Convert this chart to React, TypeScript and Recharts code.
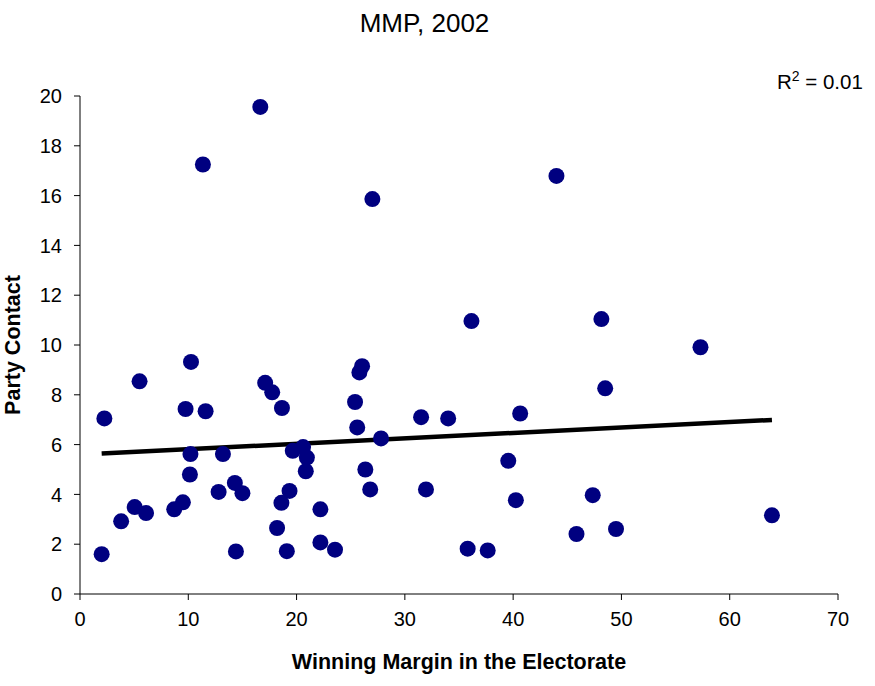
import React from 'react'
import { ComposedChart, Scatter, Line, XAxis, YAxis, Label } from 'recharts'

// winning margin (x) and party contact (y), one entry per electorate
const margin = [
  2.0, 2.25, 3.8, 5.05, 5.5, 6.1, 8.7, 9.5, 9.75, 10.2, 10.15, 10.25, 11.35, 11.6, 12.8,
  13.2, 14.3, 14.4, 15.0, 16.65, 17.1, 17.75, 18.2, 18.6, 18.65, 19.1, 19.35, 19.65, 20.6,
  20.95, 20.85, 22.2, 22.2, 23.55, 25.4, 25.6, 25.8, 26.05, 26.35, 26.8, 27.0, 27.8, 31.5,
  31.95, 34.0, 35.8, 36.15, 37.65, 39.55, 40.25, 40.65, 44.0, 45.85, 47.35, 48.15, 48.5,
  49.5, 57.3, 63.9,
]
const contact = [
  1.6, 7.05, 2.92, 3.49, 8.54, 3.25, 3.4, 3.68, 7.43, 5.62, 4.8, 9.32, 17.25, 7.34, 4.1,
  5.62, 4.46, 1.71, 4.05, 19.56, 8.48, 8.1, 2.65, 3.66, 7.47, 1.72, 4.14, 5.75, 5.9,
  5.48, 4.93, 3.4, 2.07, 1.78, 7.71, 6.69, 8.9, 9.15, 5.0, 4.2, 15.86, 6.25, 7.1,
  4.2, 7.05, 1.82, 10.96, 1.75, 5.35, 3.77, 7.25, 16.79, 2.41, 3.97, 11.04, 8.26,
  2.61, 9.91, 3.16,
]

// linear trend line end points
const trendX = [2.0, 63.9]
const trendY = [5.64, 6.99]

const xTicks = [0, 10, 20, 30, 40, 50, 60, 70]
const yTicks = [0, 2, 4, 6, 8, 10, 12, 14, 16, 18, 20]

const points = margin.map((x, i) => ({ x, y: contact[i] }))
const trend = trendX.map((x, i) => ({ x, y: trendY[i] }))

const font = '"Liberation Sans", Arial, sans-serif'

const Dot = (props: any) => (
  <circle cx={props.cx} cy={props.cy} r={8} fill="#000080" />
)

const App = () => {
  return (
    <div style={{ position: 'absolute', left: 0, top: 0, width: 875, height: 686, fontFamily: font }}>
      <div
        style={{
          position: 'absolute',
          left: 0,
          width: 849,
          top: 10,
          textAlign: 'center',
          fontSize: 26,
          lineHeight: '26px',
        }}
      >
        MMP, 2002
      </div>
      <div
        style={{
          position: 'absolute',
          left: 777,
          top: 72,
          fontSize: 20.5,
          lineHeight: '20px',
          whiteSpace: 'nowrap',
        }}
      >
        R<sup style={{ fontSize: 14, lineHeight: 0 }}>2</sup> = 0.01
      </div>
      <ComposedChart
        width={875}
        height={686}
        margin={{ top: 96, right: 37, left: 0, bottom: 0 }}
        style={{ fontFamily: font }}
      >
        <XAxis
          dataKey="x"
          type="number"
          domain={[0, 70]}
          ticks={xTicks}
          height={92}
          tickSize={6}
          tickMargin={12}
          stroke="#000"
          tick={{ fill: '#000', fontSize: 20 }}
        >
          <Label
            value="Winning Margin in the Electorate"
            position="insideBottom"
            offset={17}
            style={{ fontSize: 21.5, fontWeight: 'bold', fill: '#000' }}
          />
        </XAxis>
        <YAxis
          dataKey="y"
          type="number"
          domain={[0, 20]}
          ticks={yTicks}
          width={80}
          tickSize={6}
          tickMargin={12}
          stroke="#000"
          tick={{ fill: '#000', fontSize: 20 }}
        >
          <Label
            value="Party Contact"
            angle={-90}
            position="insideLeft"
            offset={12}
            style={{ fontSize: 21.5, fontWeight: 'bold', fill: '#000', textAnchor: 'middle' }}
          />
        </YAxis>
        <Scatter data={points} shape={Dot} isAnimationActive={false} />
        <Line
          data={trend}
          dataKey="y"
          type="linear"
          stroke="#000"
          strokeWidth={4.5}
          dot={false}
          activeDot={false}
          isAnimationActive={false}
        />
      </ComposedChart>
    </div>
  )
}

export default App
